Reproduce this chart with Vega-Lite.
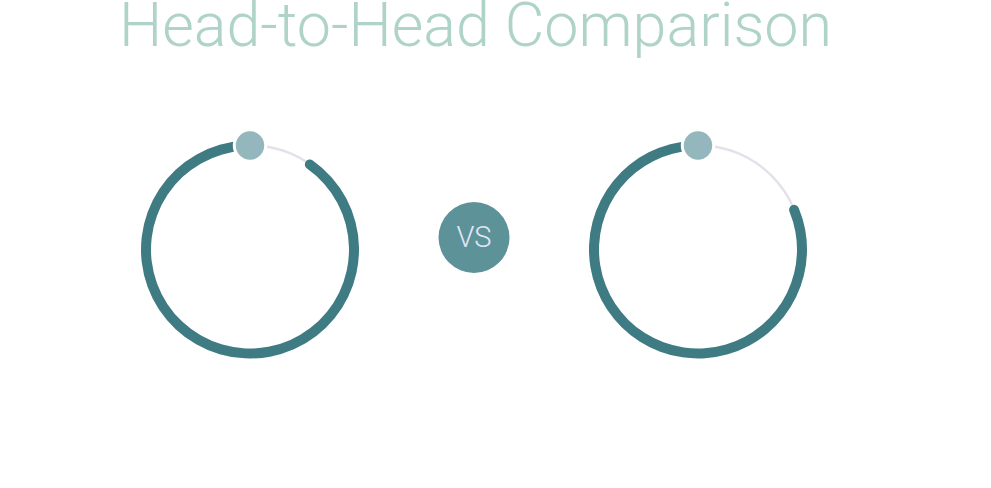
{
  "$schema": "https://vega.github.io/schema/vega-lite/v6.json",
  "width": 991,
  "height": 488,
  "autosize": "none",
  "padding": 0,
  "background": "white",
  "title": {
    "text": "Head-to-Head Comparison",
    "orient": "top",
    "anchor": "start",
    "frame": "group",
    "offset": 0,
    "dx": 119,
    "dy": 107,
    "baseline": "alphabetic",
    "font": "Roboto",
    "fontWeight": 300,
    "fontSize": 61,
    "color": "#b0d3c9"
  },
  "config": {"view": {"stroke": null}},
  "data": {
    "values": [
      {"side": "Left", "kind": "ring", "value": 0.91},
      {"side": "VS", "kind": "badge", "label": "VS"},
      {"side": "Right", "kind": "ring", "value": 0.82}
    ]
  },
  "encoding": {
    "x": {"field": "side", "type": "nominal", "scale": {"type": "point", "domain": ["Left", "VS", "Right"], "range": [250, 698], "padding": 0}, "axis": null},
    "y": {"field": "kind", "type": "nominal", "scale": {"type": "point", "domain": ["badge", "ring"], "range": [237.5, 249.5], "padding": 0}, "axis": null}
  },
  "layer": [
    {
      "transform": [{"filter": "datum.kind === 'ring'"}],
      "mark": {"type": "arc", "innerRadius": 103, "outerRadius": 105.5, "color": "#e3e2ea"},
      "encoding": {
        "theta": {"datum": 0, "type": "quantitative", "scale": {"domain": [0, 1], "range": [0, 6.2832]}},
        "theta2": {"datum": 1}
      }
    },
    {
      "transform": [{"filter": "datum.kind === 'ring'"}],
      "mark": {"type": "arc", "innerRadius": 99, "outerRadius": 109, "cornerRadius": 5, "color": "#3e7b83"},
      "encoding": {
        "theta": {"field": "value", "type": "quantitative", "scale": {"domain": [0, 1], "range": [0, 6.2832], "reverse": true}},
        "theta2": {"datum": 0}
      }
    },
    {
      "transform": [{"filter": "datum.kind === 'ring'"}],
      "mark": {"type": "point", "shape": "circle", "filled": true, "size": 990, "yOffset": -104, "color": "#93b7bc", "stroke": "white", "strokeWidth": 3, "opacity": 1}
    },
    {
      "transform": [{"filter": "datum.kind === 'badge'"}],
      "mark": {"type": "point", "shape": "circle", "filled": true, "size": 5041, "color": "#5d9299", "opacity": 1}
    },
    {
      "transform": [{"filter": "datum.kind === 'badge'"}],
      "mark": {"type": "text", "font": "Roboto", "fontWeight": 300, "fontSize": 29, "color": "#e0e6f7", "align": "center", "baseline": "middle"},
      "encoding": {"text": {"field": "label"}}
    }
  ]
}
